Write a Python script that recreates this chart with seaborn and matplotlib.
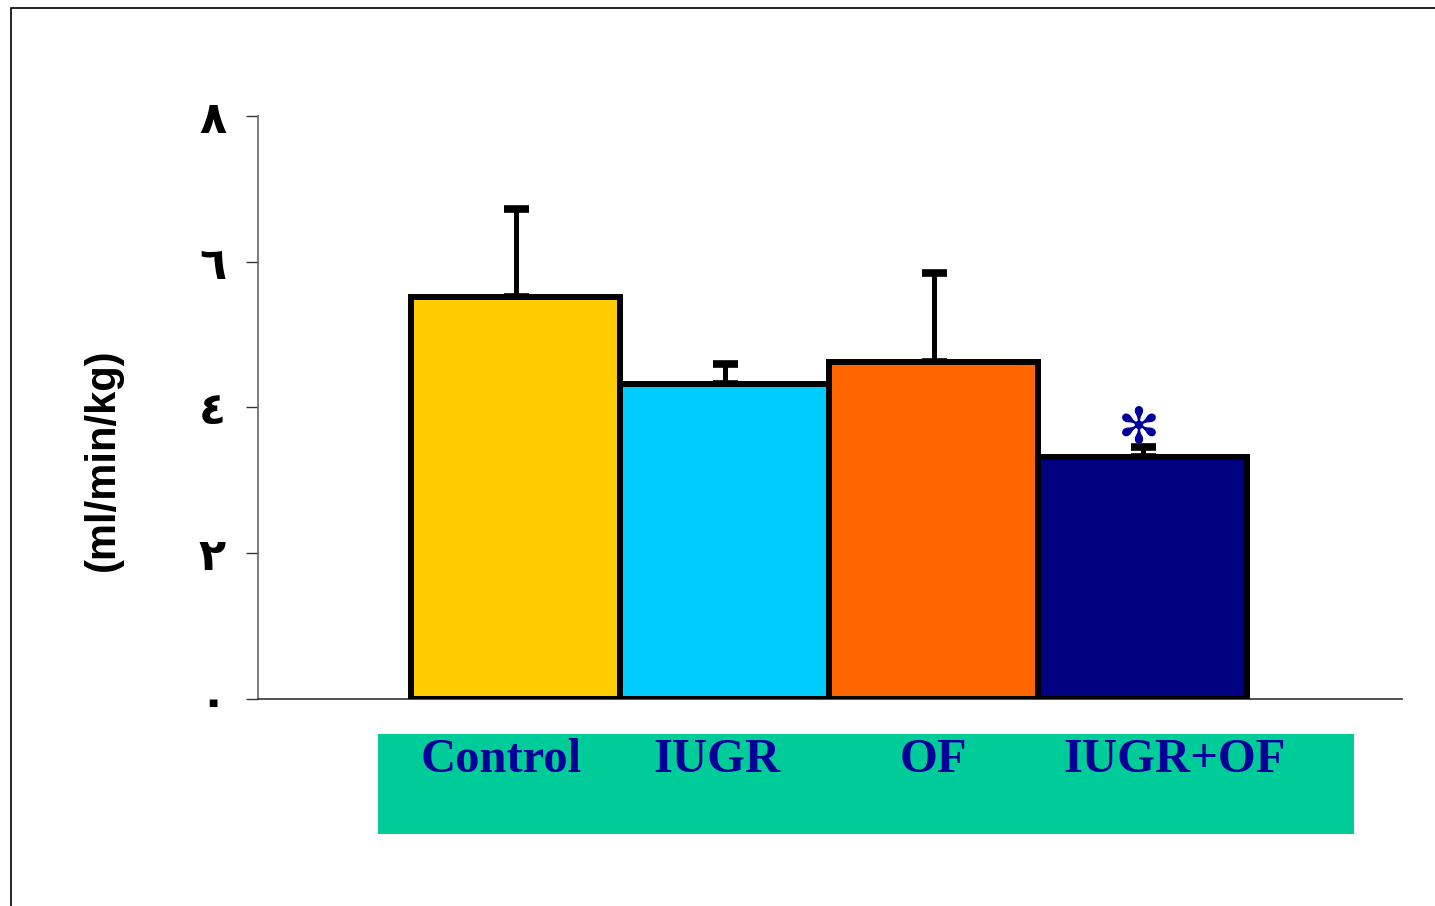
import matplotlib
matplotlib.use("Agg")
import matplotlib.pyplot as plt
import matplotlib.transforms as mtransforms
import pandas as pd
import seaborn as sns
from matplotlib.patches import Rectangle

groups = ["Control", "IUGR", "OF", "IUGR+OF"]
means = [5.52, 4.32, 4.62, 3.32]
errors = [1.21, 0.28, 1.22, 0.14]
colors = ["#FFCC00", "#00CCFF", "#FF6600", "#000080"]
ytick_values = [0, 2, 4, 6, 8]
ytick_labels = ["٠", "٢", "٤", "٦", "٨"]

data = pd.DataFrame({"group": groups, "value": means})

sns.set_style("white")
fig = plt.figure(figsize=(14.35, 9.06), dpi=100)

# outer frame
fig.patches.append(Rectangle((0.0077, -0.02), 1.1, 1.0112, transform=fig.transFigure,
                             fill=False, edgecolor="black", linewidth=1.2, zorder=0))

ax = fig.add_axes([0.1798, 0.2285, 0.797, 0.6435])
ax.patch.set_alpha(0)

sns.barplot(data=data, x="group", y="value", hue="group", palette=colors, width=1.0,
            saturation=1, edgecolor="black", linewidth=4.3, legend=False, ax=ax, zorder=3)

ax.errorbar(range(len(groups)), means, yerr=[[0] * len(errors), errors], fmt="none",
            ecolor="black", elinewidth=3.6, capsize=9, capthick=5.5, zorder=2)

top = means[3] + errors[3]
ax.text(2.98, top - 0.08, "✻", color="#000099", fontsize=36, ha="center", va="bottom",
        family=["DejaVu Sans"], zorder=4)

# green label band behind the category names
band = Rectangle((0.2634, 0.0795), 0.680, 0.110, transform=fig.transFigure,
                 facecolor="#00CC99", edgecolor="none", zorder=0, clip_on=False)
ax.add_artist(band)

ax.set_xlim(-1.234, 4.24)
ax.set_ylim(0, 8)
ax.set_yticks(ytick_values)
ax.set_yticklabels(ytick_labels, family=["DejaVu Sans"], fontweight="bold", fontsize=32)
ax.set_xticks(range(len(groups)))
ax.set_xticklabels(groups, family=["Liberation Serif"], fontweight="bold", fontsize=35,
                   color="#000099")
ax.tick_params(axis="x", length=0, pad=28)
ax.tick_params(axis="y", length=9, width=1, color="#333333", pad=14, left=True,
               direction="out", labelcolor="black")

# the category names sit a little off the bar centres in the original
shifts = [-15, -8, 0, 32]
for lab, dx in zip(ax.get_xticklabels(), shifts):
    lab.set_transform(lab.get_transform() + mtransforms.ScaledTranslation(dx / 100, 0, fig.dpi_scale_trans))

ax.set_xlabel("")
ax.set_ylabel("(ml/min/kg)", family=["Liberation Sans Narrow", "Liberation Sans", "DejaVu Sans"],
              fontweight="bold", fontsize=30, color="black")
ax.yaxis.set_label_coords(-0.118, 0.41)

for side in ("top", "right"):
    ax.spines[side].set_visible(False)
ax.spines["left"].set_color("#666666")
ax.spines["left"].set_linewidth(1.2)
ax.spines["bottom"].set_color("#333333")
ax.spines["bottom"].set_linewidth(1.2)

fig.savefig("out.png", dpi=100)
